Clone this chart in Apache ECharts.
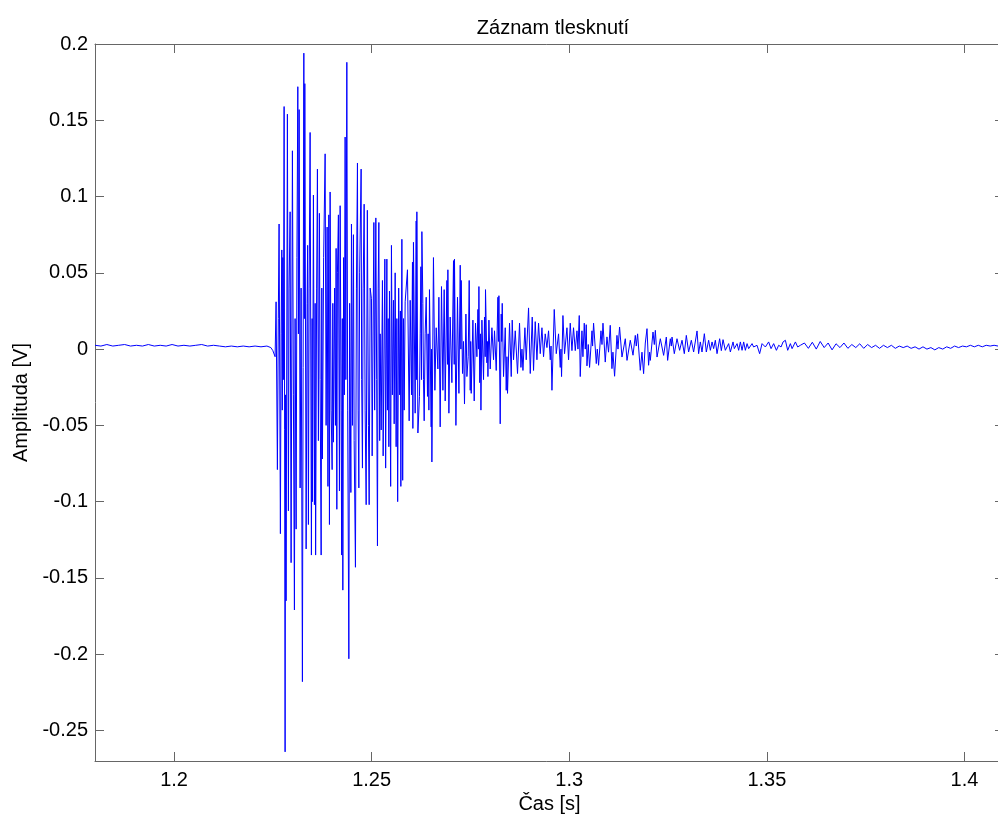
<!DOCTYPE html>
<html>
<head>
<meta charset="utf-8">
<title>Záznam tlesknutí</title>
<script src="https://cdn.jsdelivr.net/npm/echarts@6.0.0/dist/echarts.min.js"></script>
<style>
    html, body { margin: 0; padding: 0; background: #fff; }
    #chart { width: 998px; height: 821px; }
</style>
</head>
<body>
<div id="chart"></div>
<script>
'use strict';

// samples: [time in ms, amplitude in mV]
var baselineSamples = [
    [1180, 2.5], [1181.5, 2], [1183, 3], [1184.5, 2], [1186, 2.5], [1187.5, 3], [1189, 2], [1190.5, 2.5],
    [1192, 2], [1193.5, 3], [1195, 2], [1196.5, 2.5], [1198, 2], [1199.5, 3], [1201, 2], [1202.5, 2.5],
    [1204, 2], [1205.5, 2.5], [1207, 3], [1208.5, 2], [1210, 2.5], [1211.5, 2], [1213, 1.5], [1214.5, 2],
    [1216, 1.5], [1217.5, 2], [1219, 1.5], [1220.5, 2], [1222, 1.5], [1223.5, 2], [1224.5, 1], [1225, -1]
];

var onsetSamples = [
    [1225.57, -5], [1225.82, 31], [1226.15, -79], [1226.38, 20], [1226.58, 82], [1226.91, -121], [1227.09, 10],
    [1227.27, 65], [1227.39, -40], [1227.52, 60], [1227.67, -20], [1227.85, 159], [1228.10, -264], [1228.23, -30],
    [1228.35, -165], [1228.68, 154], [1228.94, -106], [1229.11, 40], [1229.37, 90], [1229.62, -140], [1229.95, 130],
    [1230.20, -30], [1230.46, -171], [1230.63, 20], [1230.89, -118], [1231.09, 60], [1231.32, 172], [1231.47, 10],
    [1231.65, 157], [1231.90, -91], [1232.15, 40], [1232.48, -218], [1232.84, 194], [1232.97, 20], [1233.09, 174],
    [1233.42, -131], [1233.67, 30], [1233.80, 68], [1234.00, -115], [1234.18, 40], [1234.43, 142], [1234.76, -135],
    [1234.94, 20], [1235.01, -100], [1235.27, 101], [1235.52, -102], [1235.70, 30], [1235.82, -135], [1236.08, 40],
    [1236.28, 118], [1236.53, -60], [1236.78, 89], [1236.96, -20], [1237.22, -135], [1237.39, 40], [1237.54, -72],
    [1237.85, 60], [1238.23, 128], [1238.48, -50], [1238.73, 80], [1238.94, -90], [1239.16, 88], [1239.32, -115],
    [1239.49, 103], [1239.75, -40], [1240.00, -79], [1240.18, 30], [1240.33, -61], [1240.63, 40], [1240.84, -50],
    [1241.01, 66], [1241.19, -105], [1241.34, 50], [1241.59, 88], [1241.85, -93], [1242.03, 94], [1242.28, -40],
    [1242.41, -135], [1242.58, 20], [1242.71, -158], [1242.91, 60], [1243.09, -30], [1243.29, 139], [1243.47, -20],
    [1243.72, 188], [1243.93, -40], [1244.23, -203], [1244.43, 30], [1244.74, -94], [1244.89, 82], [1245.14, -50],
    [1245.39, 75], [1245.57, -60], [1245.90, -143], [1246.15, 40], [1246.41, 122], [1246.58, -40], [1246.76, -91],
    [1246.96, 50], [1247.34, 118], [1247.47, -20], [1247.67, -78], [1247.85, 40], [1248.10, 95], [1248.35, -40],
    [1248.61, -102], [1248.91, 91], [1249.19, -50], [1249.37, -102], [1249.62, 40], [1249.95, 33], [1250.13, -70],
    [1250.56, 83], [1250.76, -40], [1251.06, 86], [1251.27, -20], [1251.47, -129], [1251.65, 40], [1251.82, 83],
    [1252.03, -60], [1252.15, 10], [1252.41, -53], [1252.73, 45], [1252.91, -70], [1253.34, 59], [1253.54, -78],
    [1253.85, 59], [1254.00, -40], [1254.18, 20], [1254.35, -64], [1254.51, 38], [1254.81, -90], [1255.01, 68],
    [1255.24, -30], [1255.52, 32], [1255.70, -49], [1255.95, 50], [1256.20, -64], [1256.38, 20], [1256.58, -100],
    [1256.84, 40], [1257.09, -30], [1257.27, 25], [1257.39, -90], [1257.65, 72], [1257.85, -86], [1258.06, 20],
    [1258.23, -40], [1258.48, 31]
];

var decaySamples = [
    [1259.06, 52], [1259.49, -47], [1259.75, 32], [1260.08, -30], [1260.33, 57], [1260.43, -52], [1260.58, 70],
    [1261.01, -42], [1261.27, 84], [1261.34, -20], [1261.44, 90], [1261.70, -55], [1262.10, -31], [1262.28, 10],
    [1262.46, 54], [1262.61, -20], [1262.71, 77], [1262.96, 30], [1263.11, -20], [1263.29, -47], [1263.54, 10],
    [1263.80, 34], [1264.13, -31], [1264.30, 10], [1264.48, -40], [1264.63, 39], [1265.06, -51], [1265.14, 0],
    [1265.24, -74], [1265.64, 60], [1266.00, -27], [1266.33, 14], [1266.76, -13], [1267.01, 34], [1267.34, -51],
    [1267.67, 41], [1268.03, -27], [1268.35, 39], [1268.61, -34], [1269.04, 45], [1269.19, -10], [1269.29, 52],
    [1269.54, -42], [1269.87, 21], [1270.30, -22], [1270.71, 58], [1270.89, -10], [1270.96, 59], [1271.32, -50],
    [1271.72, 34], [1272.08, -29], [1272.41, 55], [1272.58, 0], [1272.66, 45], [1272.99, -16], [1273.24, 5],
    [1273.49, -36], [1273.85, 23], [1274.10, -18], [1274.43, -5], [1274.68, 45], [1274.94, -27], [1275.06, 5],
    [1275.19, -29], [1275.62, 19], [1275.95, -34], [1276.28, 17], [1276.63, -5], [1276.89, 26], [1277.02, 0],
    [1277.14, 41], [1277.34, -22], [1277.52, 10], [1277.65, -40], [1277.90, 19], [1278.31, -20], [1278.56, 21],
    [1278.73, -5], [1278.81, 39], [1279.16, -9], [1279.29, 5], [1279.42, -18], [1279.67, 19], [1280.00, -13],
    [1280.43, 14], [1280.84, -7], [1281.09, 12], [1281.52, -14], [1281.95, 34], [1282.08, 5], [1282.20, 35],
    [1282.53, -49], [1282.78, 23], [1282.91, 5], [1283.04, 30], [1283.37, -18], [1283.80, 14], [1284.05, -27],
    [1284.23, -5], [1284.38, -29], [1284.89, 17], [1285.32, -18], [1285.57, 19], [1285.90, -7], [1286.33, 12],
    [1286.91, -16], [1287.42, 17], [1287.77, -12], [1288.03, 0], [1288.28, -14], [1288.78, 14], [1289.11, -7],
    [1289.70, 27], [1290.13, -16], [1290.63, 21], [1290.96, -14], [1291.39, 18], [1291.82, -7], [1292.23, 17],
    [1292.66, -3], [1293.09, 14], [1293.49, -5], [1293.92, 10], [1294.35, 1], [1294.76, 12], [1295.19, -7],
    [1295.39, 2], [1295.62, -27], [1296.20, 26], [1296.71, -3], [1297.29, 10], [1297.72, -12], [1297.90, 0],
    [1298.05, -18], [1298.40, 22], [1298.81, -3], [1299.42, 14], [1299.82, -7], [1300.25, 17], [1300.68, -1],
    [1301.08, 14], [1301.52, -1], [1301.95, 12], [1302.20, 0], [1302.53, 22], [1302.78, -18]
];

var tailSamples = [
    [1303.21, 12], [1303.46, -5], [1303.80, 17], [1304.05, 0], [1304.30, 16], [1304.48, -11], [1304.81, 3],
    [1305.14, -12], [1305.75, 12], [1305.90, 2], [1306.15, 17], [1306.84, -9.5], [1307.09, 0], [1307.42, -10.6],
    [1308.02, 12], [1308.28, 3], [1308.53, 17], [1309.11, -8.5], [1309.54, 8], [1309.94, -2], [1310.37, 15.6],
    [1310.80, -12.8], [1311.05, -2], [1311.47, -17.8], [1312.07, 9], [1312.33, 0], [1312.73, 14.5], [1313.34, -5.2],
    [1314.18, 6.8], [1314.61, -7.4], [1315.44, 5.8], [1316.13, -4], [1316.71, 9], [1316.96, 2], [1317.29, 10],
    [1317.97, -13.9], [1318.40, -2], [1318.81, -16.1], [1319.24, 4], [1319.67, 13.4], [1320.07, -10.6], [1320.33, -2],
    [1320.51, -7.4], [1321.19, 11.2], [1321.52, 3], [1321.78, 12.3], [1322.21, -5.2], [1323.04, 6.8], [1323.88, -4.1],
    [1324.56, 7.9], [1324.89, -7.4], [1325.57, 6.8], [1325.82, 2], [1326.00, 7.9], [1326.58, -3], [1327.26, 6.8],
    [1327.92, -0.8], [1328.53, 5.8], [1329.11, -3], [1329.62, 9], [1330.20, -1.9], [1330.89, 5.8], [1331.47, -1.9],
    [1332.33, 11.9], [1332.73, -3], [1333.16, 4.7], [1333.59, -1.9], [1334.18, 10.1], [1334.68, -1.9], [1335.27, 5.8],
    [1335.70, -0.8], [1336.13, 4.7], [1336.53, 0.3], [1336.96, 5.8], [1337.39, -3], [1338.05, 6.8], [1338.48, -1],
    [1338.91, 6.2], [1339.49, -0.8], [1340.33, 3.6], [1340.76, -1.9], [1341.44, 4.7], [1341.77, 0.3], [1342.46, 3.6],
    [1342.86, -0.8], [1343.29, 4.7], [1343.72, -0.8], [1344.13, 4.7], [1344.56, -0.8], [1344.99, 3.6], [1345.39, 0.3],
    [1346.25, 3.6], [1346.65, 1.4], [1347.51, 2.5], [1348.17, -3], [1348.78, 3.6], [1349.62, 1.4], [1350.45, 4.7],
    [1351.06, 0.3], [1351.72, 3.6], [1352.41, -0.8], [1352.99, 2.5], [1353.59, 1.4], [1354.10, 4.7], [1354.68, 5.8],
    [1355.27, -0.8], [1355.95, 3.6], [1356.38, 0.3], [1357.22, 4.7], [1357.80, 1.4], [1358.48, 2.5],
    [1359.5, 4], [1360.5, 0.5], [1361.5, 4.5], [1362.5, 0], [1363.5, 5], [1364.5, 1], [1365.5, 4], [1366.5, -0.5],
    [1367.5, 3.5], [1368.5, 1], [1369.5, 4], [1370.5, 0.5], [1371.5, 3], [1372.5, 1], [1373.5, 3.5], [1374.5, 0.5],
    [1375.5, 3], [1376.5, 1], [1377.5, 2.5], [1378.5, 0.5], [1379.5, 2.5], [1380.5, 1], [1381.5, 2.5], [1382.5, 0.5],
    [1383.5, 2], [1384.5, 1], [1385.5, 2], [1386.5, 0.5], [1387.5, 1.5], [1388.5, 0], [1389.5, 1.5], [1390.5, 0],
    [1391.5, 1], [1392.5, -0.5], [1393.5, 1], [1394.5, 0], [1395.5, 1.5], [1396.5, 0.5], [1397.5, 2], [1398.5, 1],
    [1399.5, 2], [1400.5, 1.5], [1401.5, 2.5], [1402.5, 1.5], [1403.5, 2.5], [1404.5, 1.5], [1405.5, 2.5],
    [1406.5, 2], [1407.5, 2.5], [1408.5, 2], [1409.5, 2.5], [1410, 2]
];

var timeTicks = [1.2, 1.25, 1.3, 1.35, 1.4];
var ampTicks = [-0.25, -0.2, -0.15, -0.1, -0.05, 0, 0.05, 0.1, 0.15, 0.2];

(function () {
    var FONT = "'Liberation Sans', Arial, sans-serif";
    var AXIS_COLOR = '#666';

    // ms / mV -> s / V
    function toSeconds(segments) {
        var out = [];
        segments.forEach(function (seg) {
            seg.forEach(function (p) {
                out.push([p[0] / 1000, p[1] / 1000]);
            });
        });
        return out;
    }

    function xAxisCfg(position, showLabels) {
        return {
            type: 'value',
            position: position,
            min: 1.18,
            max: 1.41,
            name: showLabels ? 'Čas [s]' : '',
            nameLocation: 'middle',
            nameGap: 28,
            nameTextStyle: { fontFamily: FONT, fontSize: 20, color: '#000' },
            axisLine: { show: true, onZero: false, lineStyle: { color: AXIS_COLOR, width: 1 } },
            axisTick: { show: true, inside: true, length: 9, customValues: timeTicks, lineStyle: { color: AXIS_COLOR } },
            axisLabel: {
                show: showLabels,
                customValues: timeTicks,
                margin: 9,
                fontFamily: FONT,
                fontSize: 20,
                color: '#000',
                formatter: function (v) { return String(v); }
            },
            splitLine: { show: false }
        };
    }

    function yAxisCfg(position, showLabels) {
        return {
            type: 'value',
            position: position,
            min: -0.27,
            max: 0.2,
            name: showLabels ? 'Amplituda [V]' : '',
            nameLocation: 'middle',
            nameGap: 60,
            nameTextStyle: { fontFamily: FONT, fontSize: 20, color: '#000' },
            axisLine: { show: true, onZero: false, lineStyle: { color: AXIS_COLOR, width: 1 } },
            axisTick: { show: true, inside: true, length: 9, customValues: ampTicks, lineStyle: { color: AXIS_COLOR } },
            axisLabel: {
                show: showLabels,
                customValues: ampTicks,
                margin: 7,
                fontFamily: FONT,
                fontSize: 20,
                color: '#000',
                formatter: function (v) { return String(v); }
            },
            splitLine: { show: false }
        };
    }

    var chart = echarts.init(document.getElementById('chart'));
    var option = {
        animation: false,
        backgroundColor: '#fff',
        title: {
            text: 'Záznam tlesknutí',
            left: 548,
            textAlign: 'center',
            top: 13,
            textStyle: { fontFamily: FONT, fontSize: 20, fontWeight: 'normal', color: '#000' }
        },
        grid: {
            left: 95,
            top: 44,
            right: -6,
            bottom: 60,
            containLabel: false,
            outerBoundsMode: 'none'
        },
        xAxis: [xAxisCfg('bottom', true), xAxisCfg('top', false)],
        yAxis: [yAxisCfg('left', true), yAxisCfg('right', false)],
        series: [
            {
                name: 'Záznam',
                type: 'line',
                xAxisIndex: 0,
                yAxisIndex: 0,
                data: toSeconds([baselineSamples, onsetSamples, decaySamples, tailSamples]),
                symbol: 'none',
                showSymbol: false,
                clip: true,
                lineStyle: { color: '#0000ff', width: 1 }
            }
        ]
    };
    chart.setOption(option);
})();
</script>
</body>
</html>
